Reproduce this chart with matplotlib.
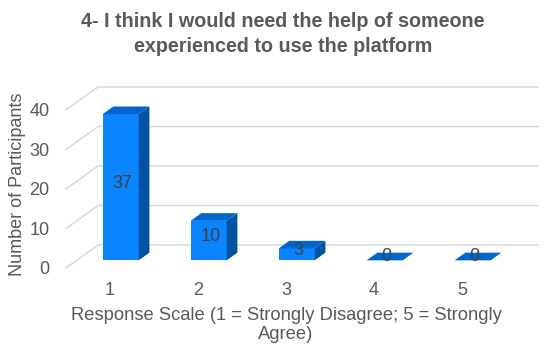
import matplotlib
matplotlib.use('Agg')
import matplotlib.pyplot as plt
from matplotlib.patches import Polygon, Rectangle

plt.rcParams['font.family'] = ['Liberation Sans', 'DejaVu Sans']

# chart data
categories = [1, 2, 3, 4, 5]
counts = [37, 10, 3, 0, 0]
y_ticks = [0, 10, 20, 30, 40]

title = '4- I think I would need the help of someone\nexperienced to use the platform'
x_title = 'Response Scale (1 = Strongly Disagree; 5 = Strongly\nAgree)'
y_title = 'Number of Participants'

# fake 3d look: depth offset of the floor, in data units
dx, dy = 0.364, 5.82
bar_w = 0.41

front_col = '#0A84FF'
top_col = '#0066CC'
side_col = '#0052A3'
grid_col = '#D9D9D9'
text_col = '#595959'

fig = plt.figure(figsize=(5.5, 3.52), dpi=100)
ax = fig.add_axes([66 / 550, 1 - 268 / 352, 472 / 550, 181 / 352])
ax.set_xlim(0.5, 5.5 + dx)
ax.set_ylim(0, max(y_ticks) + dy)

# gridlines run along the left wall and then across the back wall
for v in y_ticks:
    ax.plot([0.5, 0.5 + dx, 5.5 + dx], [v, v + dy, v + dy],
            color=grid_col, lw=1.1, zorder=1, clip_on=False)

for c, h in zip(categories, counts):
    x0 = c - bar_w / 2 + dx / 3
    y0 = dy / 3
    ddx, ddy = dx / 3, dy / 3
    if h > 0:
        ax.add_patch(Rectangle((x0, y0), bar_w, h, facecolor=front_col,
                               edgecolor='none', zorder=3))
        ax.add_patch(Polygon([(x0 + bar_w, y0), (x0 + bar_w + ddx, y0 + ddy),
                              (x0 + bar_w + ddx, y0 + h + ddy), (x0 + bar_w, y0 + h)],
                             facecolor=side_col, edgecolor='none', zorder=3))
    ax.add_patch(Polygon([(x0, y0 + h), (x0 + bar_w, y0 + h),
                          (x0 + bar_w + ddx, y0 + h + ddy), (x0 + ddx, y0 + h + ddy)],
                         facecolor=top_col, edgecolor='none', zorder=3))
    ax.text(c + dx / 2 - 0.04, h / 2 + dy / 2, str(h), ha='center', va='center',
            fontsize=13, color='#404040', zorder=5)

ax.set_xticks(categories)
ax.set_xticklabels([str(c) for c in categories])
ax.set_yticks(y_ticks)
ax.tick_params(length=0, colors=text_col, labelsize=13)
ax.tick_params(axis='x', pad=10)
ax.tick_params(axis='y', pad=12)
for s in ax.spines.values():
    s.set_visible(False)

fig.text(283 / 550, 1 - 34 / 352, title, ha='center', va='center', fontsize=14.2,
         fontweight='bold', color=text_col, linespacing=1.35)
fig.text(286 / 550, 1 - 325 / 352, x_title, ha='center', va='center',
         fontsize=13.2, color=text_col, linespacing=1.1)
fig.text(18 / 550, 1 - 184 / 352, y_title, ha='center', va='center',
         rotation=90, fontsize=13, color=text_col)

fig.savefig('out.png', dpi=100)
